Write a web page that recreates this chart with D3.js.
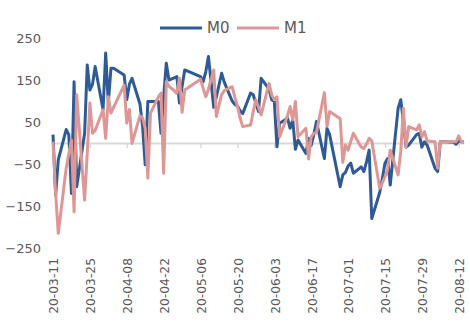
<!DOCTYPE html>
<html>
<head>
<meta charset="utf-8">
<script src="https://cdn.jsdelivr.net/npm/d3@7"></script>
<style>
  body { margin: 0; background: #fff; }
  text { font-family: "DejaVu Sans", sans-serif; fill: #595959; }
</style>
</head>
<body>
<div id="chart"></div>
<script>
// working days (interbank calendar, incl. the adjusted weekend days)
const dates = [
  "2020-03-11","2020-03-12","2020-03-13","2020-03-16","2020-03-17","2020-03-18","2020-03-19","2020-03-20",
  "2020-03-23","2020-03-24","2020-03-25","2020-03-26","2020-03-27","2020-03-30","2020-03-31",
  "2020-04-01","2020-04-02","2020-04-03","2020-04-07","2020-04-08","2020-04-09","2020-04-10",
  "2020-04-13","2020-04-14","2020-04-15","2020-04-16","2020-04-17","2020-04-20","2020-04-21",
  "2020-04-22","2020-04-23","2020-04-24","2020-04-26","2020-04-27","2020-04-28","2020-04-29","2020-04-30",
  "2020-05-06","2020-05-07","2020-05-08","2020-05-09","2020-05-11","2020-05-12","2020-05-13","2020-05-14",
  "2020-05-15","2020-05-18","2020-05-19","2020-05-20","2020-05-21","2020-05-22","2020-05-25","2020-05-26",
  "2020-05-27","2020-05-28","2020-05-29",
  "2020-06-01","2020-06-02","2020-06-03","2020-06-04","2020-06-05","2020-06-08","2020-06-09","2020-06-10",
  "2020-06-11","2020-06-12","2020-06-15","2020-06-16","2020-06-17","2020-06-18","2020-06-19","2020-06-22",
  "2020-06-23","2020-06-24","2020-06-28","2020-06-29","2020-06-30",
  "2020-07-01","2020-07-02","2020-07-03","2020-07-06","2020-07-07","2020-07-08","2020-07-09","2020-07-10",
  "2020-07-13","2020-07-14","2020-07-15","2020-07-16","2020-07-17","2020-07-20","2020-07-21","2020-07-22",
  "2020-07-23","2020-07-24","2020-07-27","2020-07-28","2020-07-29","2020-07-30","2020-07-31",
  "2020-08-03","2020-08-04","2020-08-05","2020-08-06","2020-08-07","2020-08-10","2020-08-11","2020-08-12",
  "2020-08-13","2020-08-14"
];

const m0 = [
  20, -124, -40, 32, 20, -120, 146, -104, 23, 186, 126, 140, 182, 79, 214,
  95, 178, 178, 162, 103, 140, 154, 93, 40, -52, 99, 99, 99, 23, 110, 190, 150, 155, 158, 95, 135, 174,
  158, 146, 170, 206, 85, 110, 138, 166, 145, 100, 92, 88, 77, 70, 119, 115, 95, 75, 154,
  128, 103, 99, -9, 47, 59, 35, 55, -15, 7, -25, 11, -5, 20, 51, -37, 35, 20, -104, -76, -70,
  -55, -48, -72, -57, -68, -45, -17, -180, -118, -85, -48, -37, -100, 83, 103, 50, -10, -5, 20, 23, -10, 3, -5,
  -60, -68, 3, 3, 3, 2, -3, 5, 3, 3
];

const m1 = [
  3, -120, -215, -60, -25, 7, -164, 115, -136, -25, 95, 23, 30, 79, 11,
  110, 71, 85, 138, 47, 80, -1, 65, 60, 35, -84, 71, 110, 119, -72, 146, 135, 125, 118, 154, 73, 126,
  152, 130, 110, 128, 174, 63, 90, 115, 125, 134, 110, 88, 60, 39, 43, 75, 103, 85, 67,
  142, 115, 103, 110, 15, 65, 87, 55, 99, 15, 35, -38, 15, 23, 25, 120, 40, 75, 58, -46, -5,
  -17, 3, 23, -10, -13, -2, 11, 5, -108, -95, -80, -64, -17, -76, -20, 83, -9, 39, 31, 43, 15, 27, 5,
  3, -60, 3, 3, 3, 3, 3, 17, 3, 3
];

const yTicks = [250, 150, 50, -50, -150, -250];
const xTickLabels = ["20-03-11","20-03-25","20-04-08","20-04-22","20-05-06","20-05-20",
                     "20-06-03","20-06-17","20-07-01","20-07-15","20-07-29","20-08-12"];

const seriesNames = ["M0", "M1"];
const colors = { M0: "#2e5a95", M1: "#dd9794" };

const width = 470, height = 328;
const parse = d3.utcParse("%Y-%m-%d");
const parseTick = d3.utcParse("%y-%m-%d");

const svg = d3.select("#chart")
  .append("svg")
  .attr("width", width)
  .attr("height", height);

const x = d3.scaleUtc()
  .domain([parse(dates[0]), parse(dates[dates.length - 1])])
  .range([53, 464]);

const y = d3.scaleLinear()
  .domain([-250, 250])
  .range([248, 38]);

// y labels only, no axis line
const yAxis = svg.append("g")
  .attr("transform", "translate(41,0)")
  .call(d3.axisLeft(y).tickValues(yTicks).tickSize(0).tickPadding(0));
yAxis.select(".domain").remove();
yAxis.selectAll("text")
  .style("font-size", "13px")
  .style("font-family", "'DejaVu Sans', sans-serif")
  .attr("fill", "#595959");

// horizontal axis sits on zero, with small ticks every two weeks
const tickDates = xTickLabels.map(parseTick);
const xAxis = svg.append("g")
  .attr("transform", `translate(0,${y(0)})`)
  .call(d3.axisBottom(x).tickValues(tickDates).tickSize(5).tickSizeOuter(0).tickFormat(""));
xAxis.select(".domain").attr("stroke", "#d9d9d9").attr("stroke-width", 2);
xAxis.selectAll(".tick line").attr("stroke", "#d9d9d9").attr("stroke-width", 1.5);

// rotated date labels along the bottom
svg.append("g")
  .selectAll("text")
  .data(xTickLabels)
  .join("text")
  .attr("transform", d => `translate(${x(parseTick(d)) + 1},258) rotate(-90)`)
  .attr("text-anchor", "end")
  .attr("dy", "0.35em")
  .style("font-size", "12.3px")
  .text(d => d);

// lines
const line = d3.line()
  .x((d, i) => x(parse(dates[i])))
  .y(d => y(d));

[[m0, "M0"], [m1, "M1"]].forEach(([vals, name]) => {
  svg.append("path")
    .datum(vals)
    .attr("fill", "none")
    .attr("stroke", colors[name])
    .attr("stroke-width", 3)
    .attr("stroke-linejoin", "round")
    .attr("d", line);
});

// legend
const legend = svg.append("g")
  .selectAll("g")
  .data(seriesNames)
  .join("g")
  .attr("transform", (d, i) => `translate(${160 + i * 77},28)`);
legend.append("line")
  .attr("x1", 0).attr("x2", 42)
  .attr("stroke", d => colors[d])
  .attr("stroke-width", 3);
legend.append("text")
  .attr("x", 47)
  .attr("dy", "0.35em")
  .style("font-size", "15px")
  .text(d => d);
</script>
</body>
</html>
